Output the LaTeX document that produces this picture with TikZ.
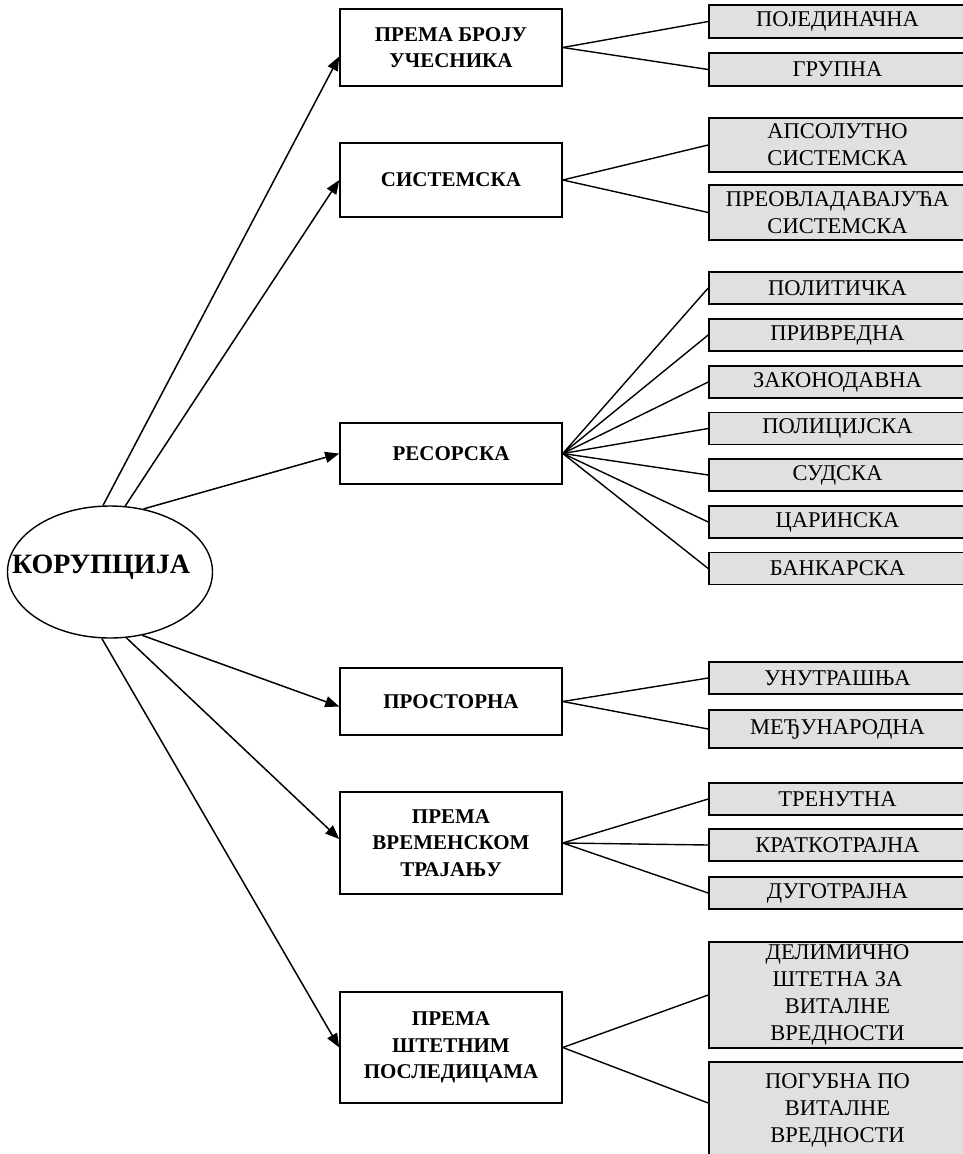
\documentclass[tikz,border=0pt]{standalone}
\usepackage{fontspec}
\setmainfont{Liberation Serif}
\usetikzlibrary{shapes.geometric,arrows.meta}
\definecolor{leafgray}{RGB}{224,224,224}
\begin{document}
\begin{tikzpicture}[x=1pt,y=-1pt,
  catbox/.style={draw, line width=1.6pt, minimum width=222pt, inner sep=0pt, align=center, font=\fontsize{21}{26.5}\selectfont\bfseries},
  leafbox/.style={draw, line width=1.6pt, fill=leafgray, minimum width=257pt, inner sep=0pt, align=center, font=\fontsize{22.5}{27}\selectfont},
  arr/.style={line width=1.5pt, -{Triangle[length=14pt,width=11pt]}},
  link/.style={line width=1.4pt}]
\clip (0,0) rectangle (963,1154);
% root
\node[ellipse, draw, line width=1.4pt, minimum width=205pt, minimum height=132pt, inner sep=0pt] (ell) at (110,572) {};
\node[font=\fontsize{28}{30}\selectfont\bfseries, inner sep=0pt] (kor) at (101,567) {КОРУПЦИЈА};
% categories
\node[catbox, minimum height=77pt] (b1) at (451,47.5) {ПРЕМА БРОЈУ\\УЧЕСНИКА};
\node[catbox, minimum height=74pt] (b2) at (451,180) {СИСТЕМСКА};
\node[catbox, minimum height=61pt] (b3) at (451,453.5) {РЕСОРСКА};
\node[catbox, minimum height=67pt] (b4) at (451,701.5) {ПРОСТОРНА};
\node[catbox, minimum height=102pt] (b5) at (451,843) {ПРЕМА\\ВРЕМЕНСКОМ\\ТРАЈАЊУ};
\node[catbox, minimum height=111pt] (b6) at (451,1047.5) {ПРЕМА\\ШТЕТНИМ\\ПОСЛЕДИЦАМА};
% leaves
\node[leafbox, minimum height=33pt] (l11) at (837.5,21.5) {ПОЈЕДИНАЧНА};
\node[leafbox, minimum height=33pt] (l12) at (837.5,69.5) {ГРУПНА};
\node[leafbox, minimum height=54pt] (l21) at (837.5,145) {АПСОЛУТНО\\СИСТЕМСКА};
\node[leafbox, minimum height=55pt] (l22) at (837.5,212.5) {ПРЕОВЛАДАВАЈУЋА\\СИСТЕМСКА};
\node[leafbox, minimum height=32pt] (l31) at (837.5,288) {ПОЛИТИЧКА};
\node[leafbox, minimum height=32pt] (l32) at (837.5,335) {ПРИВРЕДНА};
\node[leafbox, minimum height=32pt] (l33) at (837.5,382) {ЗАКОНОДАВНА};
\node[leafbox, minimum height=32pt] (l34) at (837.5,428.5) {ПОЛИЦИЈСКА};
\node[leafbox, minimum height=32pt] (l35) at (837.5,475) {СУДСКА};
\node[leafbox, minimum height=32pt] (l36) at (837.5,522) {ЦАРИНСКА};
\node[leafbox, minimum height=32pt] (l37) at (837.5,568.5) {БАНКАРСКА};
\node[leafbox, minimum height=32pt] (l41) at (837.5,678) {УНУТРАШЊА};
\node[leafbox, minimum height=38pt] (l42) at (837.5,729) {МЕЂУНАРОДНА};
\node[leafbox, minimum height=32pt] (l51) at (837.5,799) {ТРЕНУТНА};
\node[leafbox, minimum height=32pt] (l52) at (837.5,845) {КРАТКОТРАЈНА};
\node[leafbox, minimum height=32pt] (l53) at (837.5,893) {ДУГОТРАЈНА};
\node[leafbox, minimum height=106pt] (l61) at (837.5,995) {ДЕЛИМИЧНО\\ШТЕТНА ЗА\\ВИТАЛНЕ\\ВРЕДНОСТИ};
\node[leafbox, minimum height=96pt] (l62) at (837.5,1110) {ПОГУБНА ПО\\ВИТАЛНЕ\\ВРЕДНОСТИ};
% arrows from root
\draw[arr] (ell.96.9) -- ([yshift=-9pt]b1.west);
\draw[arr] (ell.77) -- (b2.west);
\draw[arr] (ell.62.2) -- (b3.west);
\draw[arr] (ell.297.8) -- ([yshift=-5pt]b4.west);
\draw[arr] (ell.284.6) -- ([yshift=4pt]b5.west);
\draw[arr] (ell.263.1) -- (b6.west);
% links to leaves
\foreach \l in {l11,l12} \draw[link] (b1.east) -- (\l.west);
\foreach \l in {l21,l22} \draw[link] (b2.east) -- (\l.west);
\foreach \l in {l31,l32,l33,l34,l35,l36,l37} \draw[link] (b3.east) -- (\l.west);
\foreach \l in {l41,l42} \draw[link] (b4.east) -- (\l.west);
\foreach \l in {l51,l52,l53} \draw[link] (b5.east) -- (\l.west);
\draw[link] (b6.east) -- (l61.west);
\draw[link] (b6.east) -- ([yshift=7pt]l62.west);
\end{tikzpicture}
\end{document}
